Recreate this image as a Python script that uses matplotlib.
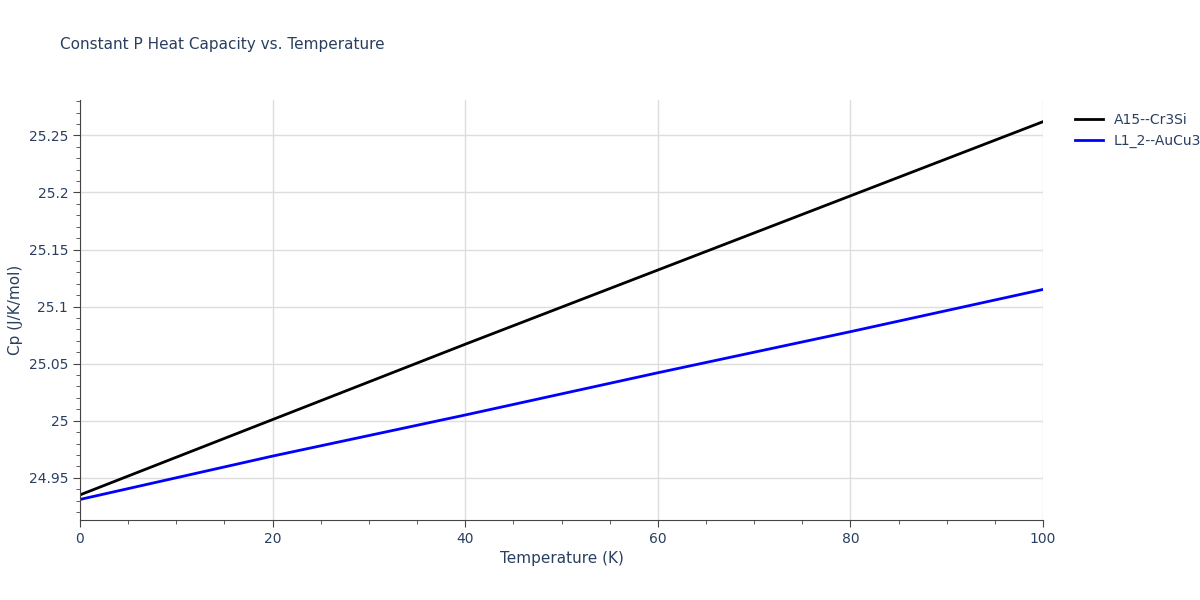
import matplotlib
matplotlib.use("Agg")
import matplotlib.pyplot as plt
from matplotlib.ticker import MultipleLocator, FuncFormatter

temps = [0, 20, 40, 60, 80, 100]
cp_a15 = [24.935, 25.001, 25.067, 25.132, 25.197, 25.262]
cp_l12 = [24.931, 24.969, 25.005, 25.042, 25.078, 25.115]
names = ["A15--Cr3Si", "L1_2--AuCu3"]

fig = plt.figure(figsize=(12, 6), dpi=100)
ax = fig.add_axes([80/1200, 80/600, 963/1200, 420/600])
ax.plot(temps, cp_a15, color="black", lw=2, label=names[0])
ax.plot(temps, cp_l12, color="blue", lw=2, label=names[1])
ax.set_xlim(0, 100)
ax.set_ylim(24.913, 25.281)
ax.xaxis.set_major_locator(MultipleLocator(20))
ax.xaxis.set_minor_locator(MultipleLocator(5))
ax.yaxis.set_major_locator(MultipleLocator(0.05))
ax.yaxis.set_minor_locator(MultipleLocator(0.01))
ax.yaxis.set_major_formatter(FuncFormatter(lambda v, p: f"{v:.2f}".rstrip("0").rstrip(".")))
ax.grid(True, which="major", color="#dddddd", lw=1)
for s in ["top", "right"]:
    ax.spines[s].set_visible(False)
for s in ["left", "bottom"]:
    ax.spines[s].set_color("#444444")
tc = "#2a3f5f"
ax.tick_params(which="both", colors="#444444", labelcolor=tc, labelsize=10)
ax.tick_params(which="major", length=5)
ax.tick_params(which="minor", length=3)
ax.set_xlabel("Temperature (K)", color=tc, fontsize=11)
ax.set_ylabel("Cp (J/K/mol)", color=tc, fontsize=11)
fig.text(60/1200, 1-45/600, "Constant P Heat Capacity vs. Temperature", color=tc, fontsize=11, va="center")
ax.legend(loc="upper left", bbox_to_anchor=(1.02, 1.0), frameon=False, fontsize=10, labelcolor=tc, handlelength=2)
fig.savefig("out.png")
